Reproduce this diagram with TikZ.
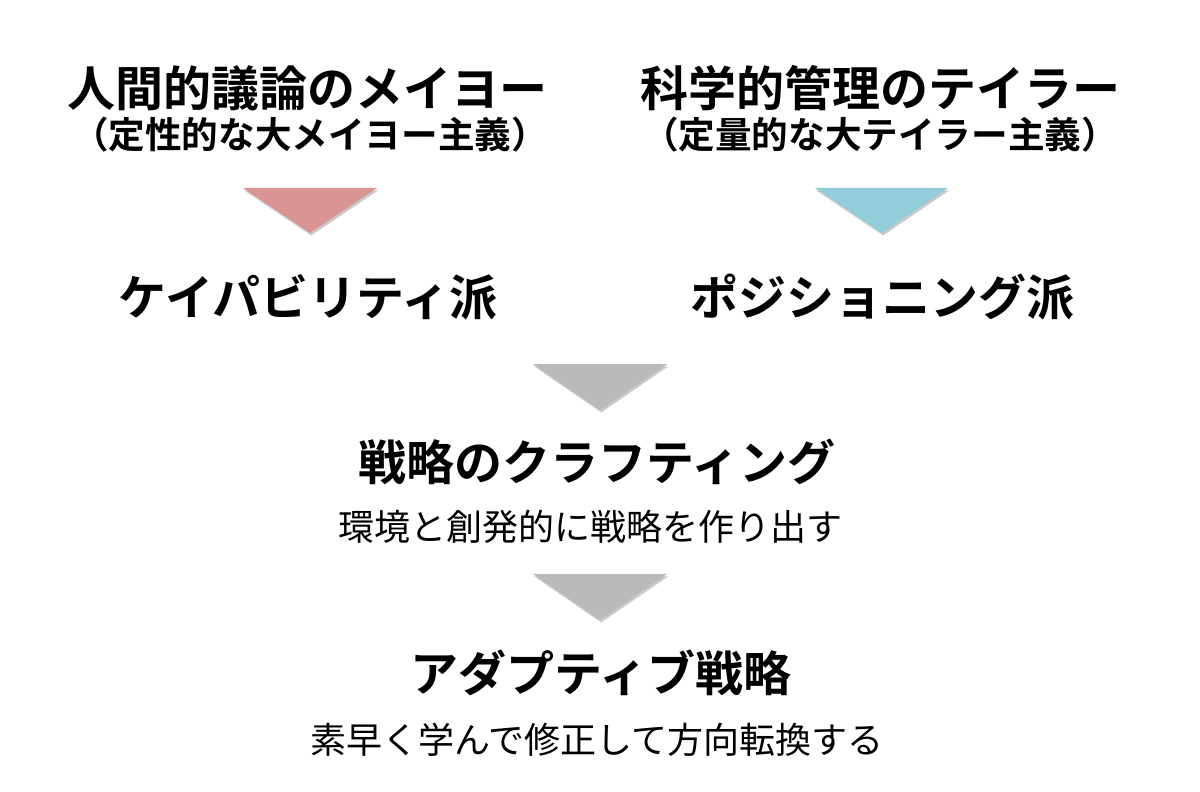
\documentclass[tikz,border=0pt]{standalone}
\usepackage{fontspec}
\setmainfont{Noto Sans CJK JP}
\newfontfamily\jpb{Noto Sans CJK JP Bold}
\usetikzlibrary{shadows}
\definecolor{pinktri}{HTML}{D99594}
\definecolor{bluetri}{HTML}{92CDDC}
\definecolor{graytri}{HTML}{B9BBB9}
\tikzset{
  head/.style={font=\jpb\fontsize{24}{28}\selectfont, inner sep=0pt, anchor=center},
  sub/.style={font=\jpb\fontsize{18.3}{22}\selectfont, inner sep=0pt, anchor=center},
  desc/.style={font=\fontsize{18}{22}\selectfont, inner sep=0pt, anchor=center},
  tri/.style={draw=none, drop shadow={shadow xshift=0.6pt, shadow yshift=-1.2pt, opacity=0.35, fill=black!60}}
}
\begin{document}
\begin{tikzpicture}[x=0.5pt,y=-0.5pt]
\useasboundingbox[fill=white] (0,0) rectangle (1200,792);
% top titles
\node[head] (mayo) at (308,88) {人間的議論のメイヨー};
\node[sub] (mayosub) at (310,135) {（定性的な大メイヨー主義）};
\node[head] (taylor) at (880,88) {科学的管理のテイラー};
\node[sub] (taylorsub) at (880,135) {（定量的な大テイラー主義）};
% triangles
\fill[pinktri,tri] (243,188) -- (377,188) -- (310,233) -- cycle;
\fill[bluetri,tri] (815,188) -- (948,188) -- (882,233) -- cycle;
% schools
\node[head] (cap) at (308,297) {ケイパビリティ派};
\node[head] (pos) at (882,297) {ポジショニング派};
\fill[graytri,tri] (533,364) -- (667,364) -- (600,410) -- cycle;
\node[head] (craft) at (597,462) {戦略のクラフティング};
\node[desc] (craftd) at (590,527) {環境と創発的に戦略を作り出す};
\fill[graytri,tri] (533,574) -- (667,574) -- (600,620) -- cycle;
\node[head] (adapt) at (601,673) {アダプティブ戦略};
\node[desc] (adaptd) at (597,740) {素早く学んで修正して方向転換する};
\end{tikzpicture}
\end{document}
